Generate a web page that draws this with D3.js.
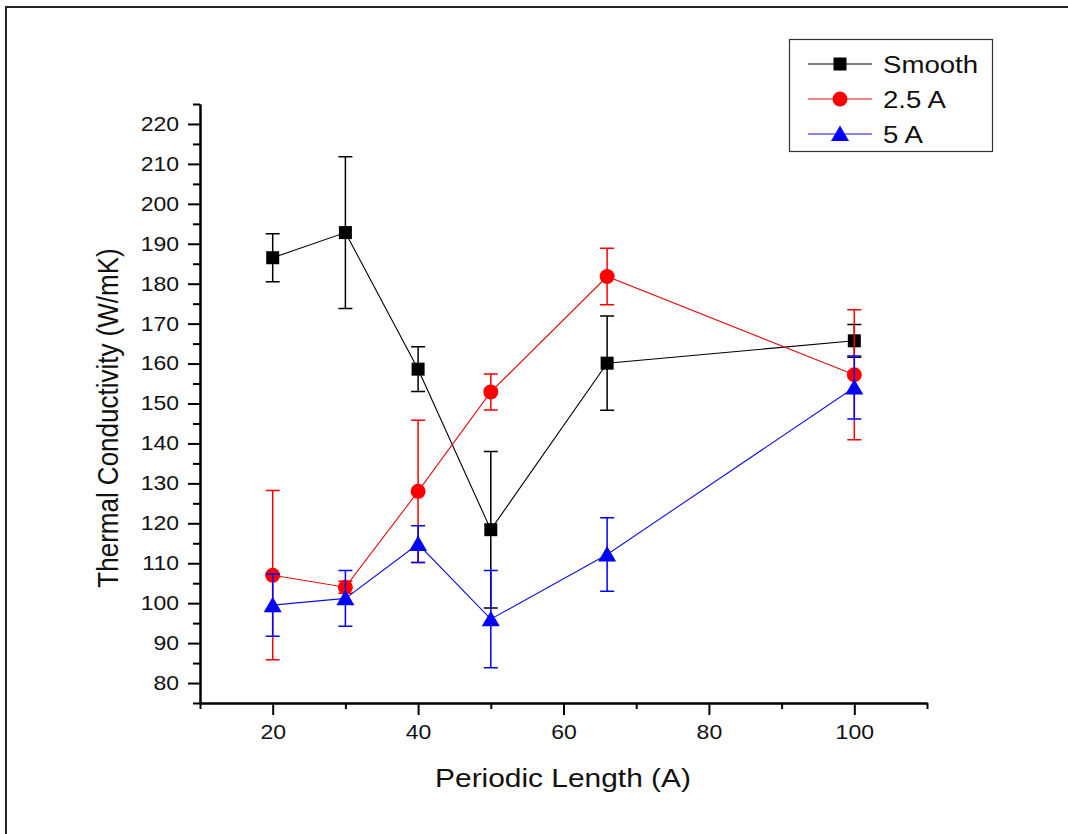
<!DOCTYPE html>
<html>
<head>
<meta charset="utf-8">
<script src="https://cdn.jsdelivr.net/npm/d3@7"></script>
<style>
  body { margin: 0; background: #fff; }
  svg { display: block; font-family: "Liberation Sans", Arial, sans-serif; }
</style>
</head>
<body>
<script>
// periodic length (A) on x
var periods = [20, 30, 40, 50, 66, 100];

// thermal conductivity (W/mK) and error for each series
var smooth    = [186.5, 192.8, 158.6, 118.4, 160.1, 165.7];
var smoothErr = [6.0, 19.0, 5.6, 19.6, 11.8, 4.1];
var a25       = [107.0, 104.0, 128.0, 152.9, 181.8, 157.2];
var a25Err    = [21.2, 1.5, 17.8, 4.5, 7.1, 16.3];
var a5        = [99.5, 101.2, 114.8, 96.0, 112.2, 154.0];
var a5Err     = [7.8, 7.0, 4.6, 12.2, 9.2, 7.9];

var seriesNames = ['Smooth', '2.5 A', '5 A'];
var xTicks = [20, 40, 60, 80, 100];
var xMinor = [10, 30, 50, 70, 90, 110];
var yTicks = d3.range(80, 221, 10);
var yMinor = d3.range(75, 226, 10);

var series = [
	{name: seriesNames[0], values: smooth, err: smoothErr, color: '#000000', line: '#000000', sym: 'square'},
	{name: seriesNames[1], values: a25, err: a25Err, color: '#ff0000', line: '#e01010', sym: 'circle'},
	{name: seriesNames[2], values: a5, err: a5Err, color: '#0000ff', line: '#1010e0', sym: 'triangle'}
];

var W = 1068, H = 834;
var sx = 1.15; // the picture's text is a little wide
var svg = d3.select('body').append('svg')
	.attr('width', W)
	.attr('height', H);

// outer frame
svg.append('rect')
	.attr('x', 6).attr('y', 7)
	.attr('width', W + 20).attr('height', H + 20)
	.attr('fill', 'none')
	.attr('stroke', '#222')
	.attr('stroke-width', 2);

var x = d3.scaleLinear().domain([10, 110]).range([200, 927]);
var y = d3.scaleLinear().domain([75, 225]).range([703, 104]);

// axes
var xAxis = svg.append('g').attr('transform', 'translate(0,' + y(75) + ')');
xAxis.call(d3.axisBottom(x).tickValues(xMinor).tickSize(6).tickSizeOuter(0).tickFormat(''));
xAxis.append('g').call(d3.axisBottom(x).tickValues(xTicks).tickSize(12).tickSizeOuter(0).tickPadding(10));

var yAxis = svg.append('g').attr('transform', 'translate(' + x(10) + ',0)');
yAxis.call(d3.axisLeft(y).tickValues(yMinor).tickSize(7).tickSizeOuter(0).tickFormat(''));
yAxis.append('g').call(d3.axisLeft(y).tickValues(yTicks).tickSize(12).tickSizeOuter(0).tickPadding(9));

svg.selectAll('.domain').attr('stroke', '#000').attr('stroke-width', 2);
svg.selectAll('.tick line').attr('stroke', '#000').attr('stroke-width', 2);
svg.selectAll('.tick text')
	.attr('fill', '#111')
	.style('font-size', '20px')
	.style('font-family', '"Liberation Sans", Arial, sans-serif');
xAxis.selectAll('.tick text').attr('transform', 'scale(' + sx + ',1)');
yAxis.selectAll('.tick text')
	.attr('x', -21 / sx)
	.attr('transform', 'scale(' + sx + ',1)');

// axis titles
svg.append('text')
	.attr('transform', 'translate(563,787) scale(' + sx + ',1)')
	.attr('text-anchor', 'middle')
	.style('font-size', '26px')
	.attr('fill', '#111')
	.text('Periodic Length (A)');

svg.append('text')
	.attr('transform', 'translate(118,418) scale(' + sx + ',1) rotate(-90)')
	.attr('text-anchor', 'middle')
	.style('font-size', '26px')
	.attr('fill', '#111')
	.text('Thermal Conductivity (W/mK)');

function drawSymbol(g, sym, cx, cy, color) {
	if (sym === 'square') {
		g.append('rect')
			.attr('x', cx - 6.5).attr('y', cy - 6.5)
			.attr('width', 13).attr('height', 13)
			.attr('fill', color);
	} else if (sym === 'circle') {
		g.append('circle')
			.attr('cx', cx).attr('cy', cy).attr('r', 7.5)
			.attr('fill', color);
	} else {
		g.append('path')
			.attr('d', 'M' + cx + ',' + (cy - 8.5) + 'L' + (cx + 9) + ',' + (cy + 7) + 'L' + (cx - 9) + ',' + (cy + 7) + 'Z')
			.attr('fill', color);
	}
}

var line = d3.line()
	.x(function(d, i) { return x(periods[i]); })
	.y(function(d) { return y(d); });

series.forEach(function(s) {
	var g = svg.append('g');
	g.append('path')
		.attr('d', line(s.values))
		.attr('fill', 'none')
		.attr('stroke', s.line)
		.attr('stroke-width', 1.1);

	s.values.forEach(function(v, i) {
		var px = x(periods[i]);
		var top = y(v + s.err[i]), bot = y(v - s.err[i]);
		g.append('path')
			.attr('d', 'M' + px + ',' + top + 'V' + bot +
				'M' + (px - 7) + ',' + top + 'H' + (px + 7) +
				'M' + (px - 7) + ',' + bot + 'H' + (px + 7))
			.attr('fill', 'none')
			.attr('stroke', s.color)
			.attr('stroke-width', 1.5);
	});

	s.values.forEach(function(v, i) {
		drawSymbol(g, s.sym, x(periods[i]), y(v), s.color);
	});
});

// legend
var lg = svg.append('g');
lg.append('rect')
	.attr('x', 789.5).attr('y', 39.5)
	.attr('width', 203).attr('height', 112)
	.attr('fill', '#fff')
	.attr('stroke', '#333')
	.attr('stroke-width', 1.2);

series.forEach(function(s, i) {
	var cy = 64 + i * 35;
	lg.append('line')
		.attr('x1', 808).attr('x2', 872)
		.attr('y1', cy).attr('y2', cy)
		.attr('stroke', s.line)
		.attr('stroke-width', 1.1);
	drawSymbol(lg, s.sym, 840, cy, s.color);
	lg.append('text')
		.attr('transform', 'translate(883,' + (cy + 8.5) + ') scale(' + sx + ',1)')
		.style('font-size', '24px')
		.attr('fill', '#111')
		.text(s.name);
});
</script>
</body>
</html>
